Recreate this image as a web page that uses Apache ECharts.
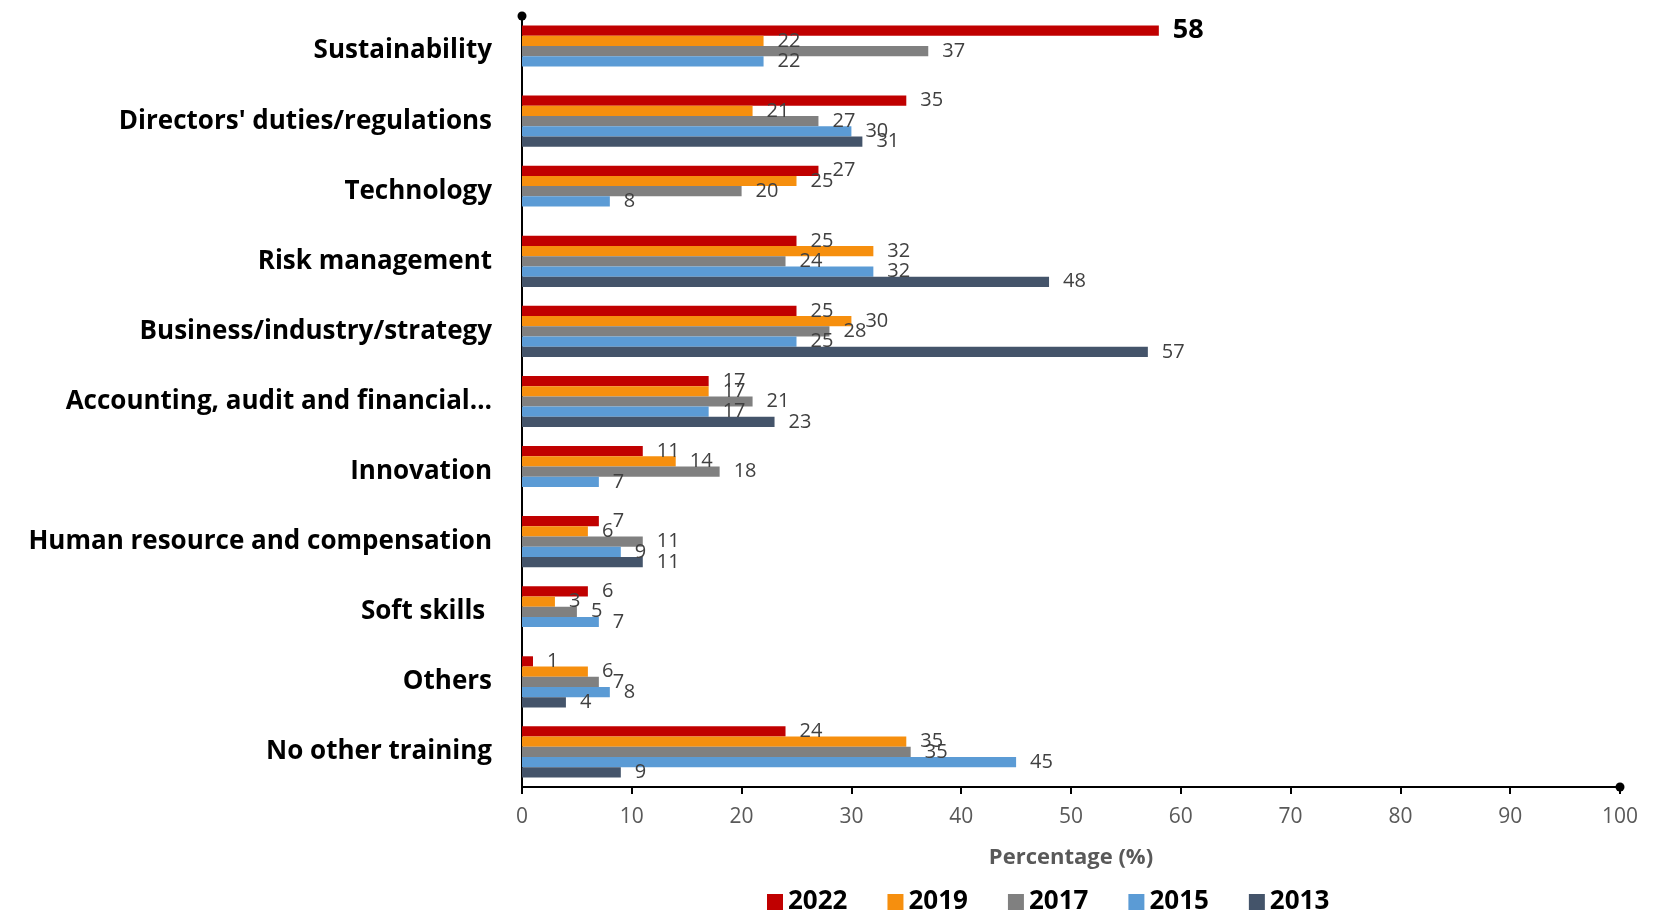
<!DOCTYPE html>
<html>
<head>
<meta charset="utf-8">
<title>Training topics</title>
<script src="https://cdn.jsdelivr.net/npm/echarts@6/dist/echarts.min.js"></script>
<style>
  html, body { margin: 0; padding: 0; background: #fff; }
  #chart { width: 1665px; height: 910px; }
</style>
</head>
<body>
<div id="chart"></div>
<script>
// categories, top to bottom
var categories = [
  'Sustainability',
  "Directors' duties/regulations",
  'Technology',
  'Risk management',
  'Business/industry/strategy',
  'Accounting, audit and financial…',
  'Innovation',
  'Human resource and compensation',
  'Soft skills ',
  'Others',
  'No other training'
]
var years = ['2022', '2019', '2017', '2015', '2013']
var colors = ['#C00000', '#F68F0E', '#808080', '#5B9BD5', '#44546A']

// values per year (null = no data)
var v2022 = [58, 35, 27, 25, 25, 17, 11, 7, 6, 1, 24]
var v2019 = [22, 21, 25, 32, 30, 17, 14, 6, 3, 6, 35]
var v2017 = [37, 27, 20, 24, 28, 21, 18, 11, 5, 7, 35.4]
var v2015 = [22, 30, 8, 32, 25, 17, 7, 9, 7, 8, 45]
var v2013 = [null, 31, null, 48, 57, 23, null, 11, null, 4, 9]
var seriesValues = [v2022, v2019, v2017, v2015, v2013]

var xTicks = [0, 10, 20, 30, 40, 50, 60, 70, 80, 90, 100]

var font = '"Open Sans", "Noto Sans", sans-serif'

var series = years.map(function (y, i) {
  return {
    name: y,
    type: 'bar',
    barGap: '0%',
    barCategoryGap: '27%',
    itemStyle: { color: colors[i] },
    label: {
      show: true,
      position: 'right',
      distance: 14,
      fontFamily: font,
      fontSize: 20,
      color: '#404040',
      formatter: function (p) {
        return p.value == null ? '' : Math.round(p.value)
      }
    },
    data: seriesValues[i].map(function (v, j) {
      // biggest value is called out in the original
      if (i === 0 && j === 0) {
        return { value: v, label: { fontWeight: 'bold', fontSize: 27, color: '#000', distance: 14 } }
      }
      return v
    })
  }
})

var chart = echarts.init(document.getElementById('chart'))
chart.setOption({
  animation: false,
  textStyle: { fontFamily: font },
  grid: { left: 522, right: 45, top: 16, bottom: 123, containLabel: false },
  legend: {
    data: years,
    top: 884,
    left: 762,
    itemWidth: 16,
    itemHeight: 16,
    itemGap: 40,
    icon: 'rect',
    textStyle: { fontFamily: font, fontWeight: 'bold', fontSize: 26, color: '#000' }
  },
  xAxis: {
    type: 'value',
    min: xTicks[0],
    max: xTicks[xTicks.length - 1],
    interval: 10,
    name: 'Percentage (%)',
    nameLocation: 'middle',
    nameGap: 60,
    nameTextStyle: { fontFamily: font, fontWeight: 'bold', fontSize: 22, color: '#595959' },
    splitLine: { show: false },
    axisLine: {
      show: true,
      lineStyle: { color: '#000', width: 2 },
      symbol: ['none', 'circle'],
      symbolSize: [9, 9]
    },
    axisTick: { show: true, inside: false, length: 7, lineStyle: { color: '#000', width: 2 } },
    axisLabel: { fontFamily: font, fontSize: 21, color: '#595959', margin: 20 }
  },
  yAxis: {
    type: 'category',
    data: categories,
    inverse: true,
    axisLine: {
      show: true,
      lineStyle: { color: '#000', width: 2 },
      symbol: ['none', 'circle'],
      symbolSize: [9, 9]
    },
    axisTick: { show: false },
    axisLabel: { fontFamily: font, fontWeight: 'bold', fontSize: 26, color: '#000', margin: 30 }
  },
  series: series
})
</script>
</body>
</html>
